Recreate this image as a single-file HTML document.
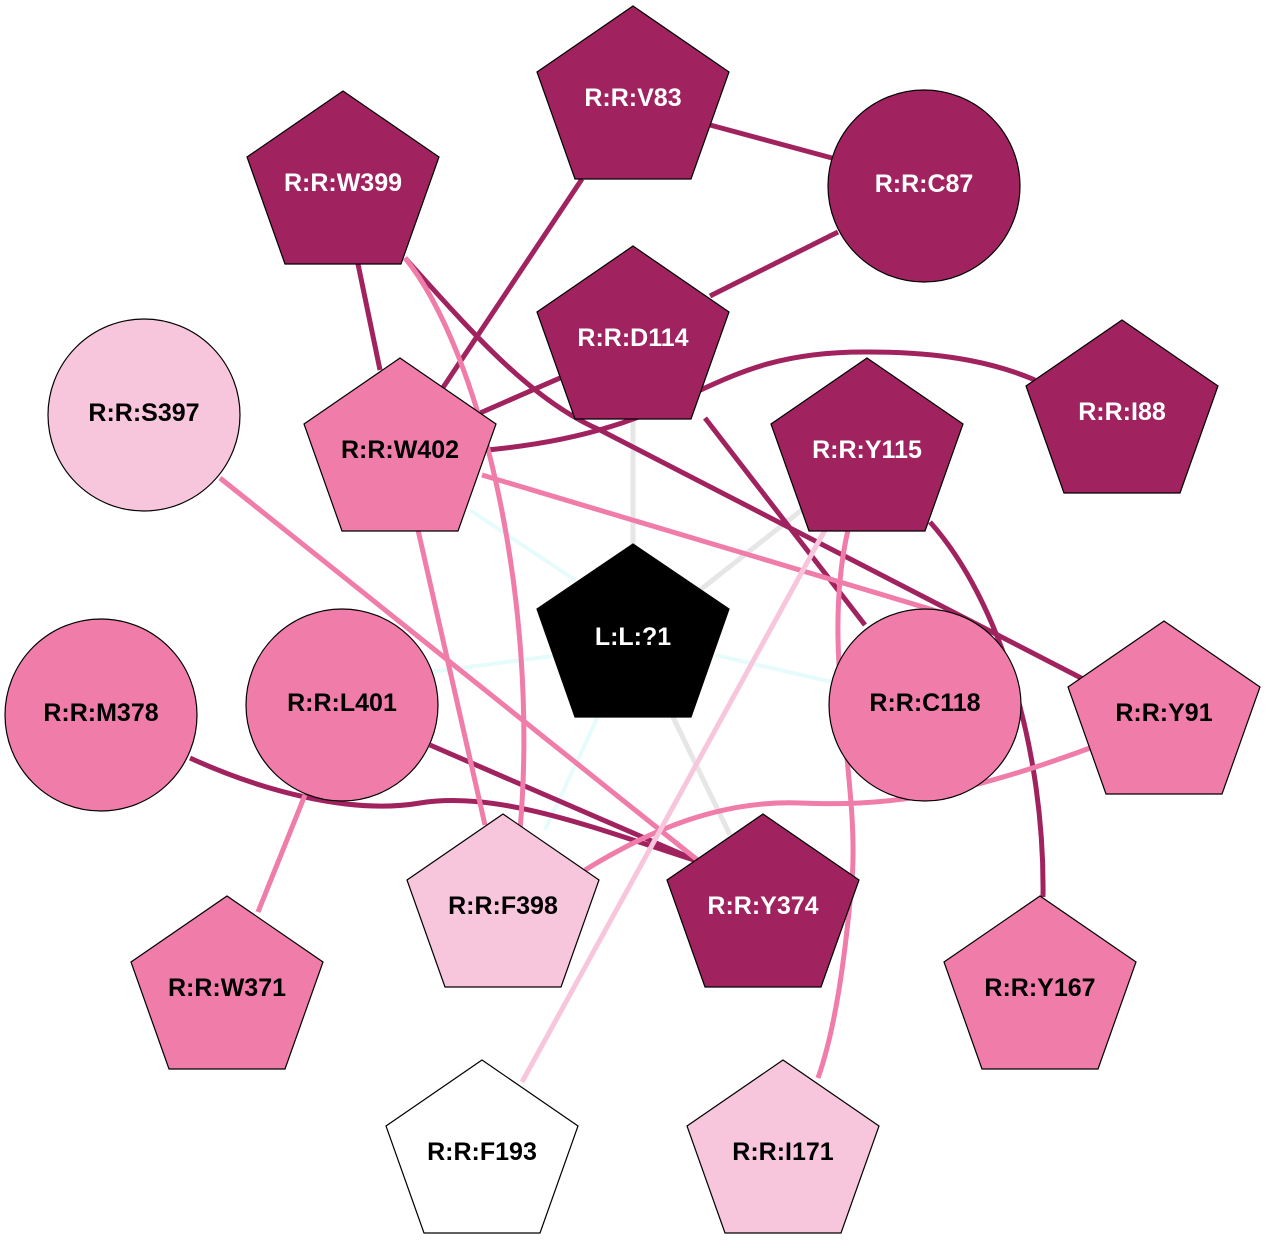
<!DOCTYPE html>
<html><head><style>body{margin:0;background:#fff}svg{display:block}text{font-family:"Liberation Sans",Arial,sans-serif;font-weight:bold;font-size:25px;text-anchor:middle;dominant-baseline:central}</style></head>
<body>
<svg width="1267" height="1256" viewBox="0 0 1267 1256" xmlns="http://www.w3.org/2000/svg">
<g fill="none" stroke-width="5">
<g stroke="#e6fbfb" stroke-width="4">
<line x1="470" y1="510" x2="575" y2="580"/>
<line x1="430" y1="672" x2="560" y2="655"/>
<line x1="715" y1="655" x2="832" y2="682"/>
<line x1="600" y1="712" x2="545" y2="830"/>
</g>
<g stroke="#e6e6e6">
<line x1="633" y1="418" x2="633" y2="545"/>
<line x1="808" y1="505" x2="700" y2="590"/>
<line x1="672" y1="715" x2="730" y2="835"/>
</g>
<g stroke="#a0235f">
<line x1="710" y1="125" x2="832" y2="158"/>
<line x1="838" y1="232" x2="710" y2="296"/>
<line x1="582" y1="179" x2="440" y2="392"/>
<line x1="358" y1="264" x2="380" y2="370"/>
<path d="M405,258 C470,330 530,400 600,430 L1085,680"/>
<line x1="560" y1="378" x2="480" y2="413"/>
<path d="M487,450 C700,430 700,350 870,352 C950,352 1000,365 1035,380"/>
<line x1="705" y1="418" x2="865" y2="625"/>
<path d="M930,522 C1000,600 1045,750 1043,897"/>
<line x1="430" y1="745" x2="700" y2="862"/>
<path d="M190,758 C260,790 350,815 420,803 C500,790 600,830 700,862"/>
</g>
<g stroke="#f07ca9">
<path d="M405,258 C480,350 540,600 520,830"/>
<line x1="482" y1="475" x2="940" y2="612"/>
<path d="M848,530 C820,650 860,780 852,880 C845,960 835,1030 818,1078"/>
<line x1="220" y1="478" x2="700" y2="862"/>
<line x1="418" y1="530" x2="485" y2="825"/>
<line x1="305" y1="795" x2="258" y2="912"/>
<path d="M585,870 C650,830 720,800 800,803 C880,806 950,800 1090,748"/>
</g>
<line stroke="#f8c6dc" x1="825" y1="530" x2="522" y2="1082"/>
</g>
<g stroke="#000" stroke-width="1.2">
<polygon fill="#a0235f" points="633,6 729,72 691,179 575,179 537,72"/>
<circle fill="#a0235f" cx="924" cy="186" r="96"/>
<polygon fill="#a0235f" points="343,91 439,157 401,264 285,264 247,157"/>
<polygon fill="#a0235f" points="633,246 729,312 691,419 575,419 537,312"/>
<polygon fill="#a0235f" points="1122,320 1218,386 1180,493 1064,493 1026,386"/>
<circle fill="#f8c6dc" cx="144" cy="415" r="96"/>
<polygon fill="#f07ca9" points="400,358 496,424 458,531 342,531 304,424"/>
<polygon fill="#a0235f" points="867,358 963,424 925,531 809,531 771,424"/>
<polygon fill="#000" points="633,544 729,609 691,717 575,717 537,609"/>
<circle fill="#f07ca9" cx="101" cy="715" r="96"/>
<circle fill="#f07ca9" cx="342" cy="705" r="96"/>
<circle fill="#f07ca9" cx="925" cy="705" r="96"/>
<polygon fill="#f07ca9" points="1164,621 1260,687 1222,794 1106,794 1068,687"/>
<polygon fill="#f8c6dc" points="503,814 599,880 561,987 445,987 407,880"/>
<polygon fill="#a0235f" points="763,814 859,880 821,987 705,987 667,880"/>
<polygon fill="#f07ca9" points="227,896 323,962 285,1069 169,1069 131,962"/>
<polygon fill="#f07ca9" points="1040,896 1136,962 1098,1069 982,1069 944,962"/>
<polygon fill="#fff" points="482,1060 578,1126 540,1233 424,1233 386,1126"/>
<polygon fill="#f8c6dc" points="783,1060 879,1126 841,1233 725,1233 687,1126"/>
</g>
<g fill="#fff">
<text x="633" y="98">R:R:V83</text>
<text x="924" y="184">R:R:C87</text>
<text x="343" y="183">R:R:W399</text>
<text x="633" y="338">R:R:D114</text>
<text x="1122" y="412">R:R:I88</text>
<text x="867" y="450">R:R:Y115</text>
<text x="633" y="637">L:L:?1</text>
<text x="763" y="906">R:R:Y374</text>
</g>
<g fill="#000">
<text x="144" y="413">R:R:S397</text>
<text x="400" y="450">R:R:W402</text>
<text x="101" y="713">R:R:M378</text>
<text x="342" y="703">R:R:L401</text>
<text x="925" y="703">R:R:C118</text>
<text x="1164" y="713">R:R:Y91</text>
<text x="503" y="906">R:R:F398</text>
<text x="227" y="988">R:R:W371</text>
<text x="1040" y="988">R:R:Y167</text>
<text x="482" y="1152">R:R:F193</text>
<text x="783" y="1152">R:R:I171</text>
</g>
</svg>
</body></html>
